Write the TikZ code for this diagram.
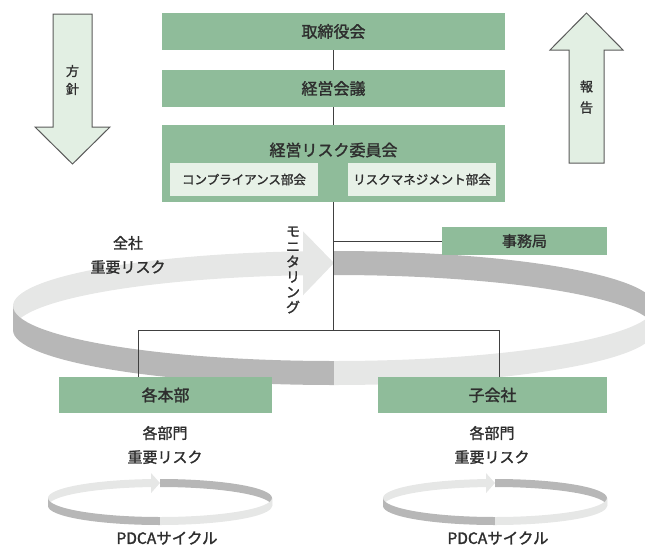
\documentclass[tikz,border=0pt]{standalone}
\usepackage{fontspec}
\setmainfont{Noto Sans CJK JP}[FakeBold=1.6]
\definecolor{boxgreen}{HTML}{8FBC9A}
\definecolor{subfill}{HTML}{E7F1E7}
\definecolor{arrowfill}{HTML}{E2EFE3}
\definecolor{arrowline}{HTML}{5A5A5A}
\definecolor{ringlight}{HTML}{E6E7E6}
\definecolor{ringdark}{HTML}{B7B7B7}
\definecolor{txt}{HTML}{2E2E2E}
\definecolor{linec}{HTML}{404040}
% ring: cx, cy, a, b, h, base angle, head half height
\newcommand\ringdraw[7]{%
  \pgfmathsetmacro\rxb{#1+#3*cos(#6)}%
  \pgfmathsetmacro\ryb{#2+#4*sin(#6)+#5/2}%
  \fill[ringdark] (#1,#2-#4) arc[start angle=270,end angle=360,x radius=#3,y radius=#4]
     -- ++(0,#5) arc[start angle=360,end angle=270,x radius=#3,y radius=#4] -- cycle;
  \fill[ringlight] (#1-#3,#2) arc[start angle=180,end angle=#6,x radius=#3,y radius=#4]
     -- ++(0,#5) arc[start angle=#6,end angle=180,x radius=#3,y radius=#4] -- cycle;
  \fill[ringlight] (\rxb,\ryb-#7) -- (#1,#2-#4+#5/2) -- (\rxb,\ryb+#7) -- cycle;
  \fill[ringdark] (#1-#3,#2) arc[start angle=180,end angle=90,x radius=#3,y radius=#4]
     -- ++(0,#5) arc[start angle=90,end angle=180,x radius=#3,y radius=#4] -- cycle;
  \fill[ringlight] (#1,#2+#4) arc[start angle=90,end angle=0,x radius=#3,y radius=#4]
     -- ++(0,#5) arc[start angle=0,end angle=90,x radius=#3,y radius=#4] -- cycle;
}
\begin{document}
\begin{tikzpicture}[x=1pt,y=-1pt,
  gbox/.style={fill=boxgreen,draw=none,inner sep=0pt,text=txt,
    font=\fontsize{16}{16}\selectfont},
  subbox/.style={fill=subfill,draw=none,inner sep=0pt,text=txt,
    minimum width=148pt,minimum height=33pt,font=\fontsize{12.5}{12.5}\selectfont},
  lbl/.style={text=txt,inner sep=0pt,align=center},
  conn/.style={draw=linec,line width=1pt},
  bigarrow/.style={fill=arrowfill,draw=arrowline,line width=1pt,line join=miter}]
\useasboundingbox (0,0) rectangle (645,549);

% side arrows
\draw[bigarrow] (53,14) -- (92,14) -- (92,127) -- (110,127) -- (72.5,164)
   -- (35,127) -- (53,127) -- cycle;
\node[lbl,font=\fontsize{13}{18}\selectfont] (hoshin) at (72.5,80) {方\\針};
\draw[bigarrow] (586.5,13) -- (623,50) -- (604,50) -- (604,163) -- (569,163)
   -- (569,50) -- (550,50) -- cycle;
\node[lbl,font=\fontsize{13}{21}\selectfont] (hokoku) at (586.5,97) {報\\告};

% rings
\begin{scope}
\clip (0,0) rectangle (645,549);
\ringdraw{334}{306}{321}{55}{24}{264.46}{32}
\end{scope}
\ringdraw{160}{498}{112}{19}{8}{265.4}{10}
\ringdraw{495}{498}{112}{19}{8}{265.4}{10}

% boxes
\node[gbox,minimum width=343pt,minimum height=37pt] (board) at (333.5,31.5) {取締役会};
\node[gbox,minimum width=343pt,minimum height=37pt] (mgmt) at (333.5,88.5) {経営会議};
\node[gbox,minimum width=343pt,minimum height=77pt] (comm) at (333.5,163.5) {};
\node[lbl,font=\fontsize{16}{16}\selectfont] (commt) at (333.5,150) {経営リスク委員会};
\node[subbox] (comp) at (244,179.5) {コンプライアンス部会};
\node[subbox] (riskm) at (422,179.5) {リスクマネジメント部会};
\node[gbox,minimum width=165pt,minimum height=28pt,font=\fontsize{15}{15}\selectfont] (jimu) at (524.5,241) {事務局};
\node[gbox,minimum width=213pt,minimum height=36pt] (honbu) at (165.5,395) {各本部};
\node[gbox,minimum width=229pt,minimum height=36pt] (kogai) at (492.5,395) {子会社};

% connectors
\coordinate (junc) at (333.5,330);
\coordinate (jbr) at (333.5,241);
\coordinate (jl) at (138,330);
\coordinate (jr) at (499,330);
\draw[conn] (board.south) -- (mgmt.north);
\draw[conn] (mgmt.south) -- (comm.north);
\draw[conn] (comm.south) -- (junc);
\draw[conn] (jbr) -- (jimu.west);
\draw[conn] (jl) -- (jr);
\draw[conn] (jl) -- (jl |- honbu.north);
\draw[conn] (jr) -- (jr |- kogai.north);

% texts
\node[lbl,font=\fontsize{14}{15.2}\selectfont] (monitor) at (293,270) {モ\\ニ\\タ\\リ\\ン\\グ};
\node[lbl,font=\fontsize{15}{24}\selectfont] (zensha) at (128,255) {全社\\重要リスク};
\node[lbl,font=\fontsize{15}{24}\selectfont] (bumonL) at (165,445) {各部門\\重要リスク};
\node[lbl,font=\fontsize{15}{24}\selectfont] (bumonR) at (492,445) {各部門\\重要リスク};
\node[lbl,font=\fontsize{15.5}{15.5}\selectfont] (pdcaL) at (167,538) {PDCAサイクル};
\node[lbl,font=\fontsize{15.5}{15.5}\selectfont] (pdcaR) at (498,538) {PDCAサイクル};
\end{tikzpicture}
\end{document}
